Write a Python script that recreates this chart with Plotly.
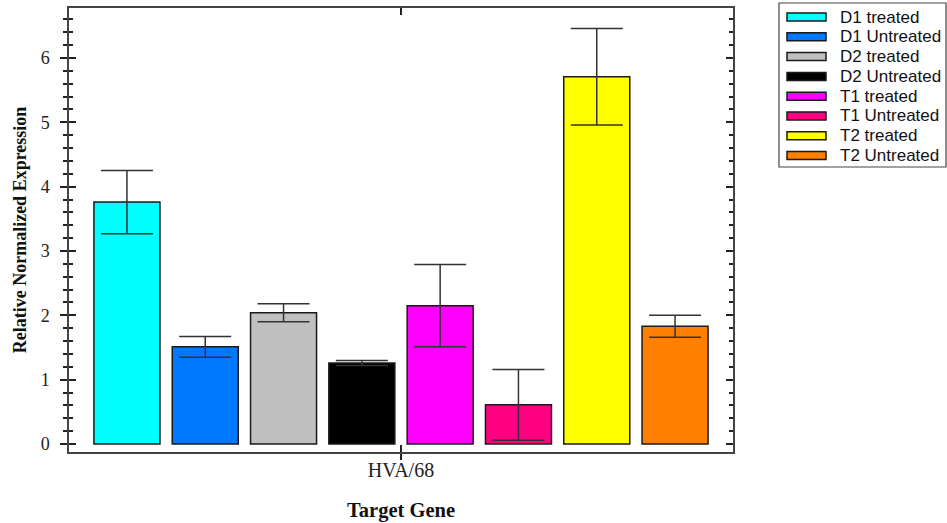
import plotly.graph_objects as go

categories = ["HVA/68"]
series_names = ["D1 treated", "D1 Untreated", "D2 treated", "D2 Untreated",
                "T1 treated", "T1 Untreated", "T2 treated", "T2 Untreated"]
series_values = [3.76, 1.51, 2.04, 1.26, 2.15, 0.61, 5.71, 1.83]
series_errors = [0.49, 0.16, 0.14, 0.04, 0.64, 0.55, 0.75, 0.17]
series_colors = ["#00FFFF", "#0078FF", "#C0C0C0", "#000000",
                 "#FF00FF", "#FF0080", "#FFFF00", "#FF8000"]
y_ticks = [0, 1, 2, 3, 4, 5, 6]

W, H = 947, 523
ML, MR, MT, MB = 69, 214, 8, 71
PW, PH = W - ML - MR, H - MT - MB


def px2x(px):
    return (px - ML) / PW


def py2y(py):
    return (H - MB - py) / PH


fig = go.Figure()
for name, val, err, col in zip(series_names, series_values, series_errors, series_colors):
    fig.add_trace(go.Bar(
        x=categories, y=[val], name=name, showlegend=False,
        marker=dict(color=col, line=dict(color="#1a1a1a", width=1.5)),
        error_y=dict(type="data", array=[err], visible=True,
                     color="#333333", thickness=1.5, width=26),
    ))

serif = "Liberation Serif, Times New Roman, serif"
sans = "Liberation Sans, Arial, sans-serif"
yr = [-0.124, 6.777]
xr = [-0.5, 0.5]

# legend box drawn in paper space (layout only)
shapes = [dict(type="rect", xref="paper", yref="paper",
               x0=px2x(779), x1=px2x(946), y0=py2y(167), y1=py2y(3),
               line=dict(color="#444444", width=1.2), fillcolor="white", layer="above")]
annotations = []
row0, pitch = 17.0, 19.8
for i, (name, col) in enumerate(zip(series_names, series_colors)):
    cy = row0 + i * pitch
    shapes.append(dict(type="rect", xref="paper", yref="paper",
                       x0=px2x(787), x1=px2x(826), y0=py2y(cy + 4), y1=py2y(cy - 4),
                       line=dict(color="#1a1a1a", width=1.5), fillcolor=col, layer="above"))
    annotations.append(dict(text=name, xref="paper", yref="paper", x=px2x(838), y=py2y(cy),
                            xanchor="left", yanchor="middle", showarrow=False,
                            font=dict(family=sans, size=17, color="#111111")))

fig.update_layout(
    width=W, height=H,
    margin=dict(l=ML, r=MR, t=MT, b=MB, autoexpand=False),
    plot_bgcolor="white", paper_bgcolor="white",
    barmode="group", bargap=0.0566, bargroupgap=0.157,
    showlegend=False,
    shapes=shapes, annotations=annotations,
    xaxis=dict(type="category", range=xr, showline=True, linecolor="#444444", linewidth=1.5,
               mirror=True, ticks="outside", ticklen=6, tickcolor="#222222", tickwidth=1.5,
               tickfont=dict(family=serif, size=20, color="#222222"), automargin=False,
               ticklabelstandoff=-7,
               title=dict(text="<b>Target Gene</b>", font=dict(family=serif, size=20.5, color="#111111"),
                          standoff=23),
               showgrid=False, zeroline=False),
    xaxis2=dict(type="linear", range=xr, overlaying="x", tickvals=[0], showticklabels=False,
                ticks="inside", ticklen=7, tickcolor="#222222", tickwidth=1.5, mirror="allticks",
                showline=False, showgrid=False, zeroline=False, automargin=False),
    yaxis=dict(range=yr, tickvals=y_ticks, showline=True, linecolor="#444444", linewidth=1.5,
               mirror=True, ticks="outside", ticklen=7, tickcolor="#222222", tickwidth=1.5,
               minor=dict(dtick=0.2, tick0=0, ticks="outside", ticklen=4, tickcolor="#222222",
                          tickwidth=1.5, showgrid=False),
               tickfont=dict(family=serif, size=18, color="#222222"), ticklabelstandoff=7,
               automargin=False,
               title=dict(text="<b>Relative Normalized Expression</b>",
                          font=dict(family=serif, size=18, color="#111111"), standoff=9),
               showgrid=False, zeroline=False),
    yaxis2=dict(range=yr, overlaying="y", side="left", tickvals=y_ticks, showticklabels=False,
                ticks="inside", ticklen=7, tickcolor="#222222", tickwidth=1.5, mirror="allticks",
                minor=dict(dtick=0.2, tick0=0, ticks="inside", ticklen=4, tickcolor="#222222",
                           tickwidth=1.5, showgrid=False),
                showline=False, showgrid=False, zeroline=False, automargin=False),
)
# invisible helper trace to activate the overlay axes
fig.add_trace(go.Scatter(x=[0], y=[0], xaxis="x2", yaxis="y2", mode="markers",
                         marker=dict(opacity=0), showlegend=False, hoverinfo="skip"))

fig.write_html("out.html", config={"displayModeBar": False},
               post_script="document.body.style.margin='0';")
